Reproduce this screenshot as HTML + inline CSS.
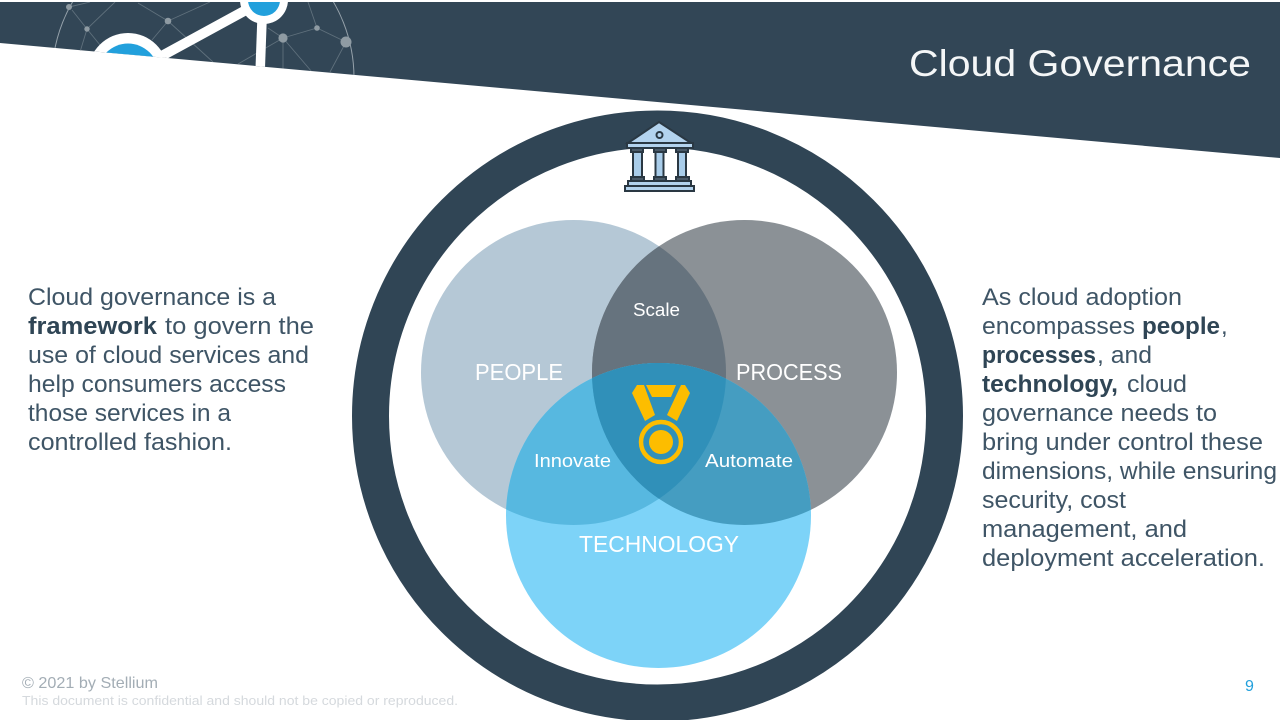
<!DOCTYPE html>
<html><head><meta charset="utf-8"><style>
html,body{margin:0;padding:0;background:#fff;width:1280px;height:720px;overflow:hidden}
svg{display:block}
text{font-family:"Liberation Sans",sans-serif}
.b{font-size:24px;fill:#3f5566}
.s{font-weight:bold;fill:#2f4555}
.w{fill:#fff}
</style></head><body>
<svg width="1280" height="720" viewBox="0 0 1280 720" xmlns="http://www.w3.org/2000/svg">
<defs>
<clipPath id="band"><polygon points="0,2 1280,2 1280,158 0,43"/></clipPath>
<clipPath id="cP"><circle cx="573.5" cy="372.5" r="152.5"/></clipPath>
<clipPath id="cR"><circle cx="744.5" cy="372.5" r="152.5"/></clipPath>
</defs>
<!-- header band -->
<polygon points="0,2 1280,2 1280,158 0,43" fill="#324656"/>
<g clip-path="url(#band)">
<circle cx="203" cy="78" r="151" fill="none" stroke="#95a1aa" stroke-width="1"/>
<g stroke="#5f707c" stroke-width="0.9" fill="none">
<path d="M69,7 L90,2 M72,10 L87,29 L115,2 M87,29 L80,52 M87,29 L100,45 M168,21 L138,3 M168,21 L210,2 M168,21 L152,40 M168,21 L213,62 M283,38 L268,28 M283,38 L317,28 L346,42 M283,38 L283,70 M283,38 L238,64 M283,38 L312,72 M346,42 L330,72 M317,28 L308,2"/>
</g>
<g fill="#8f9ba3"><circle cx="69" cy="7" r="3"/><circle cx="87" cy="29" r="2.7"/><circle cx="168" cy="21" r="3.3"/><circle cx="283" cy="38" r="4.6"/><circle cx="317" cy="28" r="2.8"/><circle cx="346" cy="42" r="5.5"/></g>
<path d="M158,58 L246,10" stroke="#fff" stroke-width="10"/>
<path d="M262,20 L260,75" stroke="#fff" stroke-width="9.5"/>
<circle cx="128" cy="73" r="40" fill="#fff"/><circle cx="128" cy="74" r="30.5" fill="#22a0dc"/>
<circle cx="264" cy="0" r="24" fill="#fff"/><circle cx="264" cy="0" r="16" fill="#22a0dc"/>
</g>
<text x="909" y="76" font-size="37" fill="#f4f6f7" textLength="342" lengthAdjust="spacingAndGlyphs">Cloud Governance</text>

<!-- ring -->
<circle cx="657.5" cy="416" r="287" fill="#fff" stroke="#304555" stroke-width="37"/>

<!-- venn -->
<circle cx="573.5" cy="372.5" r="152.5" fill="#b5c8d6"/>
<circle cx="744.5" cy="372.5" r="152.5" fill="#8b9196"/>
<circle cx="744.5" cy="372.5" r="152.5" fill="#66737e" clip-path="url(#cP)"/>
<circle cx="658.5" cy="515.5" r="152.5" fill="#7dd3f8"/>
<circle cx="658.5" cy="515.5" r="152.5" fill="#57b8e0" clip-path="url(#cP)"/>
<circle cx="658.5" cy="515.5" r="152.5" fill="#459dc1" clip-path="url(#cR)"/>
<g clip-path="url(#cP)"><circle cx="658.5" cy="515.5" r="152.5" fill="#3090b9" clip-path="url(#cR)"/></g>

<text x="475" y="380" font-size="23" class="w" textLength="88" lengthAdjust="spacingAndGlyphs">PEOPLE</text>
<text x="736" y="380" font-size="23" class="w" textLength="106" lengthAdjust="spacingAndGlyphs">PROCESS</text>
<text x="579" y="552" font-size="23" class="w" textLength="160" lengthAdjust="spacingAndGlyphs">TECHNOLOGY</text>
<text x="633" y="316" font-size="18" class="w" textLength="47" lengthAdjust="spacingAndGlyphs">Scale</text>
<text x="534" y="467" font-size="18" class="w" textLength="77" lengthAdjust="spacingAndGlyphs">Innovate</text>
<text x="705" y="467" font-size="18" class="w" textLength="88" lengthAdjust="spacingAndGlyphs">Automate</text>

<!-- medal -->
<g fill="#fdbd00">
<polygon points="646,385 676,385 671,397 652,397"/>
<polygon points="637,385 644,385 655,415 645,421 632,393"/>
<polygon points="685,385 681,385 667,415 677,421 690,393"/>
<circle cx="661" cy="442" r="12"/>
</g>
<circle cx="661" cy="442" r="20" fill="none" stroke="#fdbd00" stroke-width="4.5"/>

<!-- bank icon -->
<g stroke="#2a3843" stroke-width="2">
<polygon points="659,122 691,143 628,143" fill="#b3d3ee"/>
<rect x="627" y="143" width="66" height="5" fill="#b3d3ee"/>
<circle cx="659.5" cy="135" r="3" fill="#b3d3ee"/>
<g fill="#a9cdea">
<rect x="633" y="152" width="9" height="25"/><rect x="655.5" y="152" width="8" height="25"/><rect x="678" y="152" width="8" height="25"/>
</g>
<g fill="#4a5a68">
<rect x="631" y="148" width="12" height="4"/><rect x="654" y="148" width="12" height="4"/><rect x="676" y="148" width="12" height="4"/>
<rect x="631" y="177" width="13" height="4"/><rect x="654" y="177" width="12" height="4"/><rect x="676" y="177" width="13" height="4"/>
</g>
<rect x="628" y="181" width="63" height="5" fill="#b3d3ee"/>
<rect x="625" y="186" width="69" height="5" fill="#b3d3ee"/>
</g>

<!-- left text -->
<text class="b" x="28" y="305" textLength="248" lengthAdjust="spacingAndGlyphs">Cloud governance is a</text>
<text class="b s" x="28" y="334" textLength="129" lengthAdjust="spacingAndGlyphs">framework</text>
<text class="b" x="165" y="334" textLength="149" lengthAdjust="spacingAndGlyphs">to govern the</text>
<text class="b" x="28" y="363" textLength="281" lengthAdjust="spacingAndGlyphs">use of cloud services and</text>
<text class="b" x="28" y="392" textLength="258" lengthAdjust="spacingAndGlyphs">help consumers access</text>
<text class="b" x="28" y="421" textLength="203" lengthAdjust="spacingAndGlyphs">those services in a</text>
<text class="b" x="28" y="450" textLength="204" lengthAdjust="spacingAndGlyphs">controlled fashion.</text>

<!-- right text -->
<text class="b" x="982" y="305" textLength="200" lengthAdjust="spacingAndGlyphs">As cloud adoption</text>
<text class="b" x="982" y="334" textLength="153" lengthAdjust="spacingAndGlyphs">encompasses</text>
<text class="b s" x="1142" y="334" textLength="78" lengthAdjust="spacingAndGlyphs">people</text>
<text class="b" x="1221" y="334">,</text>
<text class="b s" x="982" y="363" textLength="114" lengthAdjust="spacingAndGlyphs">processes</text>
<text class="b" x="1097" y="363" textLength="55" lengthAdjust="spacingAndGlyphs">, and</text>
<text class="b s" x="982" y="392" textLength="136" lengthAdjust="spacingAndGlyphs">technology,</text>
<text class="b" x="1127" y="392" textLength="60" lengthAdjust="spacingAndGlyphs">cloud</text>
<text class="b" x="982" y="421" textLength="235" lengthAdjust="spacingAndGlyphs">governance needs to</text>
<text class="b" x="982" y="450" textLength="281" lengthAdjust="spacingAndGlyphs">bring under control these</text>
<text class="b" x="982" y="479" textLength="295" lengthAdjust="spacingAndGlyphs">dimensions, while ensuring</text>
<text class="b" x="982" y="508" textLength="144" lengthAdjust="spacingAndGlyphs">security, cost</text>
<text class="b" x="982" y="537" textLength="205" lengthAdjust="spacingAndGlyphs">management, and</text>
<text class="b" x="982" y="566" textLength="283" lengthAdjust="spacingAndGlyphs">deployment acceleration.</text>

<!-- footer -->
<text x="22" y="688" font-size="16" fill="#a3adb5" textLength="136" lengthAdjust="spacingAndGlyphs">© 2021 by Stellium</text>
<text x="22" y="705" font-size="13" fill="#d5d9dd" textLength="436" lengthAdjust="spacingAndGlyphs">This document is confidential and should not be copied or reproduced.</text>
<text x="1245" y="691" font-size="16" fill="#22a0dc">9</text>
</svg>
</body></html>
